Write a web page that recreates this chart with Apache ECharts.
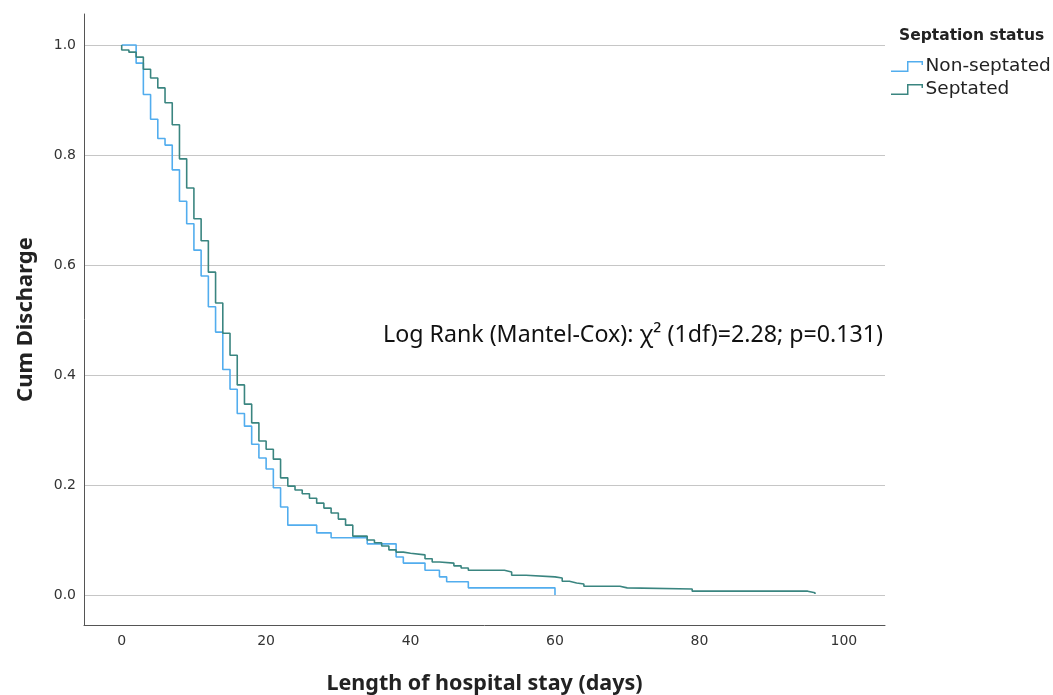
<!DOCTYPE html>
<html>
<head>
<meta charset="utf-8">
<title>Cum Discharge by septation status</title>
<script src="https://cdn.jsdelivr.net/npm/echarts@6/dist/echarts.min.js"></script>
<style>
    html, body { margin: 0; padding: 0; background: #fff; }
    #km-chart { width: 1053px; height: 695px; }
</style>
</head>
<body>
<div id="km-chart"></div>
<script>
// Non-septated group (days, cumulative proportion still in hospital)
var nonSeptDays = [0, 2, 3, 4, 5, 6, 7, 8, 9, 10, 11, 12, 13, 14, 15, 16, 17, 18, 19, 20, 21, 22, 23, 27, 29, 34, 38, 39, 42, 44, 45, 48, 60];
var nonSeptSurv = [1.0, 0.967, 0.91, 0.865, 0.83, 0.818, 0.773, 0.716, 0.675, 0.627, 0.58, 0.524, 0.478, 0.41, 0.374, 0.33, 0.307, 0.274, 0.249, 0.229, 0.195, 0.16, 0.127, 0.113, 0.104, 0.093, 0.069, 0.058, 0.045, 0.033, 0.024, 0.013, 0.0];

// Septated group
var septDays = [0, 0, 1, 2, 3, 4, 5, 6, 7, 8, 9, 10, 11, 12, 13, 14, 15, 16, 17, 18, 19, 20, 21, 22, 23, 24, 25, 26, 27, 28, 29, 30, 31, 32, 34, 35, 36, 37, 38, 39, 40, 42, 43, 44, 46, 47, 48, 53, 54, 56, 60, 61, 62, 63, 64, 69, 70, 79, 95, 96];
var septSurv = [1.0, 0.991, 0.987, 0.978, 0.956, 0.94, 0.922, 0.895, 0.855, 0.793, 0.74, 0.684, 0.644, 0.587, 0.531, 0.476, 0.436, 0.382, 0.347, 0.313, 0.28, 0.265, 0.247, 0.213, 0.198, 0.191, 0.184, 0.176, 0.167, 0.158, 0.149, 0.138, 0.127, 0.107, 0.1, 0.095, 0.089, 0.082, 0.078, 0.076, 0.073, 0.066, 0.06, 0.058, 0.053, 0.049, 0.045, 0.042, 0.036, 0.033, 0.031, 0.025, 0.022, 0.02, 0.016, 0.013, 0.011, 0.007, 0.004, 0.002];

var xTicks = [0, 20, 40, 60, 80, 100];
var yTicks = [0, 0.2, 0.4, 0.6, 0.8, 1.0];

function zip(xs, ys) {
    return xs.map(function (x, i) { return [x, ys[i]]; });
}

// thin step shape for the legend icon
var stepIcon = 'path://M0,9.5 L16,9.5 L16,0 L32,0 L32,4 L30.5,4 L30.5,1.5 L17.5,1.5 L17.5,11 L0,11 Z';

var chart = echarts.init(document.getElementById('km-chart'));
chart.setOption({
    animation: false,
    backgroundColor: '#ffffff',
    title: {
        text: 'Septation status',
        left: 894,
        top: 23,
        textStyle: { fontFamily: 'DejaVu Sans', fontSize: 15.5, fontWeight: 'bold', color: '#222' }
    },
    legend: {
        orient: 'vertical',
        left: 886,
        top: 52,
        itemWidth: 33,
        itemHeight: 11,
        itemGap: 4,
        icon: stepIcon,
        itemStyle: { borderWidth: 0 },
        textStyle: { fontFamily: 'DejaVu Sans', fontSize: 18.5, color: '#222', padding: [0, 0, 0, -3] },
        data: ['Non-septated', 'Septated']
    },
    grid: { left: 84, right: 168, top: 14, bottom: 70, outerBoundsMode: 'none' },
    xAxis: {
        type: 'value',
        min: -5.22,
        max: 105.7,
        name: 'Length of hospital stay (days)',
        nameLocation: 'middle',
        nameGap: 48,
        nameTextStyle: { fontFamily: 'Noto Sans', fontSize: 21.5, fontWeight: 'bold', color: '#222' },
        axisLine: { onZero: false, lineStyle: { color: '#555', width: 1 } },
        axisTick: { show: false, customValues: xTicks },
        axisLabel: {
            customValues: xTicks,
            margin: 9,
            fontFamily: 'DejaVu Sans',
            fontSize: 14,
            color: '#333'
        },
        splitLine: { show: false }
    },
    yAxis: {
        type: 'value',
        min: -0.0545,
        max: 1.0564,
        name: 'Cum Discharge',
        nameLocation: 'middle',
        nameGap: 47,
        nameTextStyle: { fontFamily: 'Noto Sans', fontSize: 22, fontWeight: 'bold', color: '#222' },
        axisLine: { show: true, onZero: false, lineStyle: { color: '#555', width: 1 } },
        axisTick: { show: false, customValues: yTicks },
        axisLabel: {
            customValues: yTicks,
            margin: 8,
            fontFamily: 'DejaVu Sans',
            fontSize: 14,
            color: '#333',
            formatter: function (v) { return v.toFixed(1); }
        },
        splitLine: { show: true, lineStyle: { color: '#c6c6c6', width: 1.2 } }
    },
    graphic: [{
        type: 'text',
        left: 383,
        top: 324,
        style: {
            text: 'Log Rank (Mantel-Cox): \u03c7\u00b2 (1df)=2.28; p=0.131)',
            fontFamily: 'Noto Sans',
            fontSize: 23.2,
            fill: '#111'
        }
    }],
    series: [{
        name: 'Non-septated',
        type: 'line',
        step: 'end',
        showSymbol: false,
        color: '#52adee',
        lineStyle: { width: 1.6, color: '#52adee' },
        data: zip(nonSeptDays, nonSeptSurv),
        z: 2
    }, {
        name: 'Septated',
        type: 'line',
        step: 'end',
        showSymbol: false,
        color: '#3a8580',
        lineStyle: { width: 1.6, color: '#3a8580' },
        data: zip(septDays, septSurv),
        z: 3
    }]
});
</script>
</body>
</html>
